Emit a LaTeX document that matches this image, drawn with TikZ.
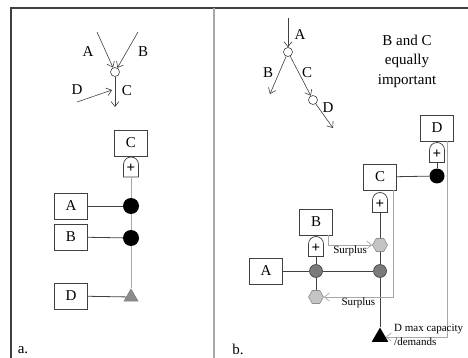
\documentclass[tikz,border=0pt]{standalone}
\usepackage{fontspec}
\setmainfont{Liberation Serif}
\usetikzlibrary{positioning,shapes.geometric,arrows.meta}
\definecolor{linedark}{HTML}{404040}
\definecolor{linelight}{HTML}{A8A8A8}
\definecolor{dotgray}{HTML}{7A7A7A}
\definecolor{hexgray}{HTML}{C4C4C4}
\definecolor{trigray}{HTML}{8C8C8C}
\tikzset{
    box/.style={draw=linedark,line width=0.7pt,minimum width=33pt,minimum height=26pt,
        inner sep=0pt,font=\fontsize{15}{18}\selectfont},
    lbl/.style={inner sep=0pt,font=\fontsize{15}{18}\selectfont},
    small/.style={inner sep=1pt,font=\fontsize{11}{14}\selectfont},
    flow/.style={draw=linedark,line width=0.6pt,-{Straight Barb[length=5pt,width=8pt]}},
    surplus/.style={draw=linelight,line width=0.7pt,-{Straight Barb[length=5pt,width=8pt]}},
    link/.style={draw=linedark,line width=0.8pt},
    hub/.style={circle,draw=linedark,line width=0.6pt,fill=white,minimum size=9pt,inner sep=0pt},
    dot/.style={circle,fill=black,minimum size=16pt,inner sep=0pt},
    gdot/.style={circle,draw=linedark,line width=0.6pt,fill=dotgray,minimum size=13pt,inner sep=0pt},
    hexa/.style={regular polygon,regular polygon sides=6,draw=trigray,line width=0.6pt,
        fill=hexgray,minimum size=15pt,inner sep=0pt},
    tri/.style={regular polygon,regular polygon sides=3,inner sep=0pt},
    pics/gate/.style={code={
        \draw[linedark,line width=0.7pt,fill=white] (-7.5,-10) -- (-7.5,2.5)
            arc[start angle=180,end angle=0,radius=7.5pt] -- (7.5,-10) -- cycle;
        \node[inner sep=0pt,font=\bfseries\fontsize{15}{15}\selectfont] at (0,-1.5) {+};
        \coordinate (-n) at (0,10);
        \coordinate (-s) at (0,-10);
    }}
}
\begin{document}
\begin{tikzpicture}[x=1pt,y=1pt]
    \useasboundingbox (0,0) rectangle (468,-358);
    % frame and divider
    \draw[linedark,line width=1.5pt] (10,-8) -- (468,-8);
    \draw[linedark,line width=1.2pt] (11,-8) -- (11,-358);
    \draw[linelight,line width=1.2pt] (214,-8) -- (214,-358);

    % a. flow sketch
    \node[hub] (hubA) at (115,-72) {};
    \coordinate (inA) at (97,-32);
    \coordinate (inB) at (138,-32);
    \coordinate (outC) at (115,-107);
    \coordinate (inD) at (77,-102);
    \coordinate (endD) at (112,-90);
    \draw[flow] (inA) -- (hubA);
    \draw[flow] (inB) -- (hubA);
    \draw[flow] (hubA) -- (outC);
    \draw[flow] (inD) -- (endD);
    \node[lbl] (labA) at (88,-52) {A};
    \node[lbl] (labB) at (143,-52) {B};
    \node[lbl] (labC) at (127,-91) {C};
    \node[lbl] (labD) at (77,-90) {D};

    % a. structure
    \node[box] (aC) at (131,-143) {C};
    \pic (aG) at (131,-167) {gate};
    \node[dot] (aCA) at (131,-206) {};
    \node[dot] (aCB) at (131,-238) {};
    \node[tri,fill=trigray,draw=gray,line width=0.6pt,minimum size=16pt] (aT) at (131,-297) {};
    \node[box] (aA) at (71,-206) {A};
    \node[box] (aB) at (71,-237) {B};
    \node[box] (aD) at (71,-296) {D};
    \draw[linelight,line width=1pt] (aG-s) -- (aCA) -- (aCB) -- (aT);
    \draw[link] (aA) -- (aCA);
    \draw[link] (aB) -- (aCB);
    \draw[link] (aD) -- (aT);
    \node[lbl] (capA) at (23,-350) {a.};

    % b. flow sketch
    \node[hub] (hubB1) at (288,-52) {};
    \node[hub] (hubB2) at (313,-100) {};
    \coordinate (srcA) at (288,-18);
    \coordinate (endB) at (270,-94);
    \coordinate (endD2) at (333,-128);
    \draw[flow] (srcA) -- (hubB1);
    \draw[flow] (hubB1) -- (endB);
    \draw[flow] (hubB1) -- (hubB2);
    \draw[flow] (hubB2) -- (endD2);
    \node[lbl] (labA2) at (300,-35) {A};
    \node[lbl] (labB2) at (268,-73) {B};
    \node[lbl] (labC2) at (307,-73) {C};
    \node[lbl] (labD2) at (328,-108) {D};
    \node[lbl,align=center,font=\fontsize{15}{19.5}\selectfont] (note) at (407,-61)
        {B and C\\equally\\important};

    % b. structure
    \node[box] (bD) at (437,-128) {D};
    \pic (bGD) at (437,-152.5) {gate};
    \node[dot,minimum size=15pt] (bCD) at (437,-176) {};
    \node[box] (bC) at (380,-177) {C};
    \pic (bGC) at (380,-202.5) {gate};
    \node[hexa] (bHC) at (380,-245) {};
    \node[gdot] (bCC) at (380,-271) {};
    \node[box] (bB) at (316,-222) {B};
    \pic (bGB) at (316,-246.5) {gate};
    \node[gdot] (bCB) at (316,-271) {};
    \node[hexa] (bHB) at (316,-297) {};
    \node[box] (bA) at (266,-271) {A};
    \node[tri,fill=black,minimum size=19pt] (bT) at (380,-337) {};
    \draw[link] (bGD-s) -- (bCD);
    \draw[link] (bC) -- (bCD);
    \draw[link] (bGC-s) -- (bHC) -- (bCC) -- (bT);
    \draw[link] (bGB-s) -- (bCB) -- (bHB);
    \draw[link] (bA) -- (bCB) -- (bCC);
    % surplus and capacity feedback
    \draw[surplus] ([xshift=12pt]bB.south) |- (bHC.west)
        node[small,pos=0.75,below] (sur1) {Surplus};
    \draw[surplus] ([xshift=13pt]bC.south) |- (bHB.east)
        node[small,pos=0.75,below] (sur2) {Surplus};
    \draw[surplus] ([xshift=10pt]bD.south) |- (bT.east);
    \node[small,align=left,anchor=west] (cap) at (393,-335) {D max capacity\\/demands};
    \node[lbl] (capB) at (238,-349) {b.};
\end{tikzpicture}
\end{document}
